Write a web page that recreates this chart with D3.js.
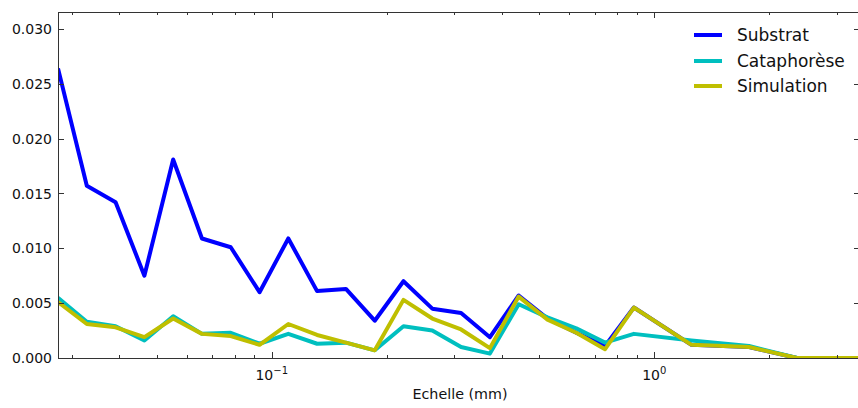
<!DOCTYPE html>
<html>
<head>
<meta charset="utf-8">
<script src="https://cdn.jsdelivr.net/npm/d3@7"></script>
<style>
  html, body { margin: 0; padding: 0; background: #fff; }
  svg { display: block; font-family: "DejaVu Sans", sans-serif; }
</style>
</head>
<body>
<svg id="chart" width="858" height="408"></svg>
<script>
// ---- data ----
const scales = [0.02763, 0.03286, 0.03908, 0.04647, 0.05526, 0.06572, 0.07815, 0.09294,
  0.1105, 0.1314, 0.1563, 0.1859, 0.2210, 0.2629, 0.3126, 0.3718, 0.4421, 0.5258,
  0.6253, 0.7436, 0.8843, 1.2506, 1.7686, 2.360, 3.449];
const substrat = [0.0264, 0.0157, 0.0142, 0.0075, 0.0181, 0.0109, 0.0101, 0.0060,
  0.0109, 0.0061, 0.0063, 0.0034, 0.0070, 0.0045, 0.0041, 0.0019, 0.0057, 0.0036,
  0.0023, 0.0011, 0.0046, 0.0012, 0.0010, 0.0000, 0.0000];
const cataphorese = [0.0055, 0.0033, 0.0029, 0.0016, 0.0038, 0.0022, 0.0023, 0.0013,
  0.0022, 0.0013, 0.0014, 0.0007, 0.0029, 0.0025, 0.0010, 0.0004, 0.0049, 0.0037,
  0.0027, 0.0014, 0.0022, 0.0016, 0.0011, 0.0000, 0.0000];
const simulation = [0.0051, 0.0031, 0.0028, 0.0019, 0.0036, 0.0022, 0.0020, 0.0012,
  0.0031, 0.0021, 0.0014, 0.0007, 0.0053, 0.0036, 0.0026, 0.0009, 0.0056, 0.0035,
  0.0023, 0.0008, 0.0046, 0.0012, 0.0010, 0.0000, 0.0000];
const seriesNames = ["Substrat", "Cataphorèse", "Simulation"];
const seriesColors = ["#0000ff", "#00bfbf", "#bfbf00"];
const yTicks = [0, 0.005, 0.010, 0.015, 0.020, 0.025, 0.030];
const xMajorTicks = [0.1, 1];
const xMajorLabels = [["10", "\u22121"], ["10", "0"]];
const xLabel = "Echelle (mm)";

// ---- layout ----
const L = 58, R = 860, T = 12, B = 358;
const svg = d3.select("#chart");
const x = d3.scaleLog().domain([scales[0], scales[scales.length - 1]]).range([L, R]);
const y = d3.scaleLinear().domain([0, 0.03155]).range([B, T]);

svg.append("clipPath").attr("id", "clip")
  .append("rect").attr("x", L).attr("y", T).attr("width", R - L).attr("height", B - T);

const line = d3.line().x((d, i) => x(scales[i])).y(d => y(d));
const allSeries = [substrat, cataphorese, simulation];
const g = svg.append("g").attr("clip-path", "url(#clip)");
allSeries.forEach((s, i) => {
  g.append("path").datum(s)
    .attr("d", line)
    .attr("fill", "none")
    .attr("stroke", seriesColors[i])
    .attr("stroke-width", 4)
    .attr("stroke-linejoin", "round");
});

// ---- axes frame ----
const axisColor = "#333";
svg.append("rect").attr("x", L + 0.5).attr("y", T + 0.5)
  .attr("width", R - L - 1).attr("height", B - T)
  .attr("fill", "none").attr("stroke", axisColor).attr("stroke-width", 1);

const majLen = 6, minLen = 3;
yTicks.forEach(v => {
  const yy = Math.round(y(v)) + 0.5;
  svg.append("line").attr("x1", L).attr("x2", L + majLen).attr("y1", yy).attr("y2", yy)
    .attr("stroke", axisColor);
  svg.append("line").attr("x1", R - majLen).attr("x2", R).attr("y1", yy).attr("y2", yy)
    .attr("stroke", axisColor);
  svg.append("text").attr("x", 52).attr("y", y(v)).attr("dy", "0.36em")
    .attr("text-anchor", "end").attr("font-size", 14).attr("fill", "#111")
    .text(d3.format(".3f")(v));
});

const xMinor = [];
[0.01, 0.1, 1].forEach(dec => {
  for (let m = 2; m <= 9; m++) {
    const v = dec * m;
    if (v >= scales[0] && v <= scales[scales.length - 1]) xMinor.push(v);
  }
});
xMinor.forEach(v => {
  const xx = Math.round(x(v)) + 0.5;
  svg.append("line").attr("x1", xx).attr("x2", xx).attr("y1", B - minLen).attr("y2", B).attr("stroke", axisColor);
  svg.append("line").attr("x1", xx).attr("x2", xx).attr("y1", T).attr("y2", T + minLen).attr("stroke", axisColor);
});
xMajorTicks.forEach((v, i) => {
  const xx = Math.round(x(v)) + 0.5;
  svg.append("line").attr("x1", xx).attr("x2", xx).attr("y1", B - majLen).attr("y2", B).attr("stroke", axisColor);
  svg.append("line").attr("x1", xx).attr("x2", xx).attr("y1", T).attr("y2", T + majLen).attr("stroke", axisColor);
  const t = svg.append("text").attr("x", x(v)).attr("y", 380)
    .attr("text-anchor", "middle").attr("font-size", 14).attr("fill", "#111");
  t.append("tspan").text(xMajorLabels[i][0]);
  t.append("tspan").attr("dy", -6).attr("font-size", 10).text(xMajorLabels[i][1]);
});

svg.append("text").attr("x", 460).attr("y", 399).attr("text-anchor", "middle")
  .attr("font-size", 14.3).attr("fill", "#111").text(xLabel);

// ---- legend ----
const legY = [35, 61, 86];
seriesNames.forEach((n, i) => {
  svg.append("line").attr("x1", 694).attr("x2", 722).attr("y1", legY[i]).attr("y2", legY[i])
    .attr("stroke", seriesColors[i]).attr("stroke-width", 4);
  svg.append("text").attr("x", 737).attr("y", legY[i] + 6).attr("font-size", 17)
    .attr("fill", "#111").text(n);
});
</script>
</body>
</html>
